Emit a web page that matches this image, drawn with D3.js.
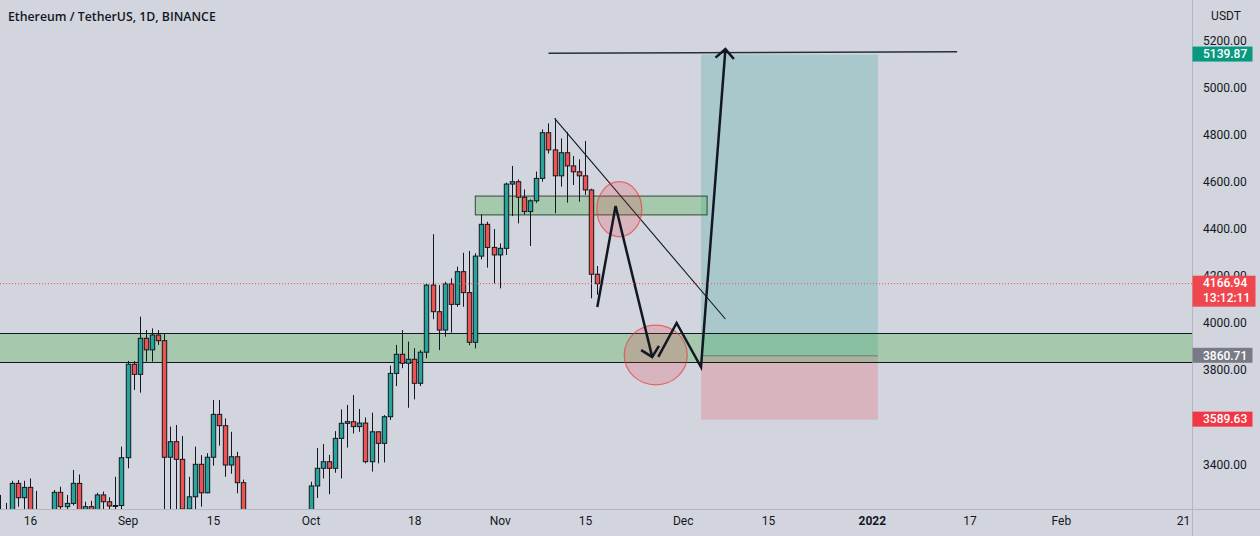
<!DOCTYPE html>
<html><head><meta charset="utf-8">
<script src="https://cdn.jsdelivr.net/npm/d3@7"></script>
<style>html,body{margin:0;padding:0;background:#d2d5dd;overflow:hidden}</style>
</head><body>
<svg id="c" width="1260" height="536"></svg>
<script>
// ---- candle data (ETH/USDT 1D) ----
const dates = ["2021-08-11","2021-08-12","2021-08-13","2021-08-14","2021-08-15","2021-08-16","2021-08-17","2021-08-18","2021-08-19","2021-08-20",
"2021-08-21","2021-08-22","2021-08-23","2021-08-24","2021-08-25","2021-08-26","2021-08-27","2021-08-28","2021-08-29","2021-08-30","2021-08-31",
"2021-09-01","2021-09-02","2021-09-03","2021-09-04","2021-09-05","2021-09-06","2021-09-07","2021-09-08","2021-09-09","2021-09-10",
"2021-09-11","2021-09-12","2021-09-13","2021-09-14","2021-09-15","2021-09-16","2021-09-17","2021-09-18","2021-09-19","2021-09-20",
"2021-09-21","2021-09-22","2021-09-23","2021-09-24","2021-09-25","2021-09-26","2021-09-27","2021-09-28","2021-09-29","2021-09-30",
"2021-10-01","2021-10-02","2021-10-03","2021-10-04","2021-10-05","2021-10-06","2021-10-07","2021-10-08","2021-10-09","2021-10-10",
"2021-10-11","2021-10-12","2021-10-13","2021-10-14","2021-10-15","2021-10-16","2021-10-17","2021-10-18","2021-10-19","2021-10-20",
"2021-10-21","2021-10-22","2021-10-23","2021-10-24","2021-10-25","2021-10-26","2021-10-27","2021-10-28","2021-10-29","2021-10-30","2021-10-31",
"2021-11-01","2021-11-02","2021-11-03","2021-11-04","2021-11-05","2021-11-06","2021-11-07","2021-11-08","2021-11-09","2021-11-10",
"2021-11-11","2021-11-12","2021-11-13","2021-11-14","2021-11-15","2021-11-16","2021-11-17"];
const opens = [3140,3165,3048,3319,3258,3302,3150,3010,3020,3180,
3281,3220,3234,3319,3170,3220,3100,3270,3241,3223,3225,
3428,3825,3782,3935,3886,3949,3925,3430,3496,3421,
3210,3262,3400,3279,3430,3612,3564,3397,3432,3322,
2980,2760,3080,3155,2930,2925,3060,2930,2805,2850,
3000,3308,3383,3411,3383,3510,3574,3581,3560,3575,
3411,3538,3489,3602,3786,3867,3829,3846,3744,3876,
4161,4048,3970,4166,4079,4218,4129,3918,4284,4419,4321,
4289,4317,4590,4600,4534,4473,4519,4614,4808,4735,
4625,4723,4667,4642,4625,4565,4207];
const highs = [3270,3236,3330,3333,3330,3340,3287,3120,3185,3291,
3305,3270,3376,3357,3241,3245,3279,3284,3260,3347,3475,
3839,3838,4027,3970,3977,3970,3956,3560,3567,3520,
3347,3475,3439,3447,3673,3673,3595,3538,3453,3335,
3100,3100,3170,3160,2970,3110,3160,3060,2960,3050,
3326,3469,3486,3440,3541,3633,3652,3694,3635,3599,
3619,3540,3609,3819,3907,3970,3921,3893,3885,4168,
4377,4161,4175,4190,4239,4298,4306,4296,4461,4430,4399,
4338,4596,4667,4610,4567,4525,4643,4822,4848,4869,
4784,4810,4709,4695,4773,4570,4242];
const lows = [3120,3030,3040,3220,3160,3140,2990,2950,2960,3160,
3190,3120,3225,3140,3080,3060,3070,3200,3150,3150,3160,
3383,3716,3704,3836,3836,3907,3000,3200,3200,3150,
3180,3200,3220,3277,3394,3479,3347,3360,3277,2950,
2740,2740,3040,2750,2800,2740,2930,2800,2790,2840,
2970,3257,3340,3273,3364,3340,3471,3531,3538,3404,
3369,3404,3408,3588,3732,3808,3640,3676,3732,3850,
4016,3885,3942,3959,4069,4069,3906,3892,4270,4235,4168,
4147,4289,4454,4423,4460,4327,4510,4600,4720,4466,
4579,4511,4586,4515,4544,4105,4120];
const closes = [3165,3048,3319,3258,3302,3150,3010,3020,3180,3281,
3220,3234,3319,3170,3220,3100,3270,3241,3223,3225,3428,
3825,3782,3935,3886,3949,3925,3430,3496,3421,3210,
3262,3400,3279,3430,3612,3564,3397,3432,3322,2980,
2760,3080,3155,2930,2925,3060,2930,2805,2850,3000,
3308,3383,3411,3383,3510,3574,3581,3560,3575,3411,
3538,3489,3602,3786,3867,3829,3846,3744,3876,4161,
4048,3970,4166,4079,4218,4129,3918,4284,4419,4321,4289,
4317,4590,4600,4534,4473,4519,4614,4808,4735,4625,
4723,4667,4642,4625,4565,4207,4166.94];

// ---- axes ----
const priceTicks = [3400,3600,3800,4000,4200,4400,4600,4800,5000,5200];
const timeTickDates = ["2021-08-16","2021-09-01","2021-09-15","2021-10-01","2021-10-18","2021-11-01","2021-11-15","2021-12-01","2021-12-15","2022-01-01","2022-01-17","2022-02-01","2022-02-21"];
const timeTickLabels = ["16","Sep","15","Oct","18","Nov","15","Dec","15","2022","17","Feb","21"];
const boldTickLabels = ["2022"];

// ---- drawings ----
const supportZone = [3834, 3957];
const boxDates = ["2021-10-28","2021-12-05"];
const boxPrices = [4459, 4539];
const posDates = ["2021-12-04","2022-01-02"];
const entryPrice = 3860.71, targetPrice = 5139.87, stopPrice = 3589.63;
const lastPrice = 4166.94, countdown = "13:12:11";
const trendLine = [["2021-11-10",4869],["2021-12-08",4017]];
const targetLine = [["2021-11-09",5145],["2022-01-15",5152]];
const zig1 = [["2021-11-17",4068],["2021-11-20",4497],["2021-11-26",3856]];
const zig2 = [["2021-11-27",3856],["2021-11-30",4000],["2021-12-04",3813],["2021-12-08",5163]];
const ellipseDates = [["2021-11-16T22:00Z","2021-11-24T07:00Z"],["2021-11-21T10:00Z","2021-12-01T18:00Z"]];
const ellipsePrices = [[4366,4600],[3737,3991]];

const W = 1260, H = 536, plotR = 1192, plotB = 509;
const bg = "#d2d5dd", ink = "#131722";
const up = "#26a69a", down = "#ef5350";
const P = s => new Date(s.length === 10 ? s + "T00:00:00Z" : s);

const x = d3.scaleUtc().domain([P("2021-08-16"), P("2022-02-21")]).range([30, 30 + 189 * 6.1]);
const y = d3.scaleLinear().domain([4000, 5200]).range([323, 323 - 1200 * 0.2355]);

const svg = d3.select("#c");
svg.append("rect").attr("width", W).attr("height", H).attr("fill", bg);
svg.append("defs").append("clipPath").attr("id", "pc")
  .append("rect").attr("x", 0).attr("y", 0).attr("width", plotR).attr("height", plotB);
const g = svg.append("g").attr("clip-path", "url(#pc)");

// long position
const px0 = x(P(posDates[0])), px1 = x(P(posDates[1]));
g.append("rect").attr("x", px0).attr("width", px1 - px0)
  .attr("y", y(targetPrice)).attr("height", y(entryPrice) - y(targetPrice))
  .attr("fill", "rgba(0,150,136,0.2)");
g.append("rect").attr("x", px0).attr("width", px1 - px0)
  .attr("y", y(entryPrice)).attr("height", y(stopPrice) - y(entryPrice))
  .attr("fill", "rgba(242,54,69,0.2)");

// support zone
g.append("rect").attr("x", 0).attr("width", plotR)
  .attr("y", y(supportZone[1])).attr("height", y(supportZone[0]) - y(supportZone[1]))
  .attr("fill", "rgba(76,175,80,0.33)");
[supportZone[0], supportZone[1]].forEach(p => {
  g.append("line").attr("x1", 0).attr("x2", plotR).attr("y1", Math.round(y(p)) + 0.5).attr("y2", Math.round(y(p)) + 0.5)
    .attr("stroke", ink).attr("stroke-width", 1);
});
g.append("line").attr("x1", px0).attr("x2", px1).attr("y1", y(entryPrice)).attr("y2", y(entryPrice))
  .attr("stroke", "#6f7a80").attr("stroke-width", 1);

// small resistance box
const bx0 = x(P(boxDates[0])), bx1 = x(P(boxDates[1]));
g.append("rect").attr("x", bx0).attr("width", bx1 - bx0)
  .attr("y", y(boxPrices[1])).attr("height", y(boxPrices[0]) - y(boxPrices[1]))
  .attr("fill", "rgba(76,175,80,0.33)").attr("stroke", "#2e4a33").attr("stroke-width", 1);

// candles
const candles = dates.map((d, i) => ({ t: P(d), o: opens[i], h: highs[i], l: lows[i], c: closes[i] }));
const bw = 4.4;
const cg = g.append("g");
cg.selectAll("line.w").data(candles).join("line")
  .attr("x1", d => Math.round(x(d.t)) + 0.5).attr("x2", d => Math.round(x(d.t)) + 0.5)
  .attr("y1", d => y(d.h)).attr("y2", d => y(d.l))
  .attr("stroke", ink).attr("stroke-width", 1);
cg.selectAll("rect.b").data(candles).join("rect")
  .attr("x", d => Math.round(x(d.t)) + 0.5 - bw / 2)
  .attr("width", bw)
  .attr("y", d => y(Math.max(d.o, d.c)))
  .attr("height", d => Math.max(1, Math.abs(y(d.o) - y(d.c))))
  .attr("fill", d => d.c >= d.o ? up : down)
  .attr("stroke", ink).attr("stroke-width", 1);

// lines
const lineGen = d3.line().x(d => x(P(d[0]))).y(d => y(d[1]));
g.append("path").attr("d", lineGen(trendLine)).attr("fill", "none").attr("stroke", ink).attr("stroke-width", 1.1);
g.append("path").attr("d", lineGen(targetLine)).attr("fill", "none").attr("stroke", "#2a2e39").attr("stroke-width", 1.5);

// ellipses
ellipseDates.forEach((ed, i) => {
  const ex0 = x(P(ed[0])), ex1 = x(P(ed[1]));
  const ey0 = y(ellipsePrices[i][1]), ey1 = y(ellipsePrices[i][0]);
  g.append("ellipse").attr("cx", (ex0 + ex1) / 2).attr("cy", (ey0 + ey1) / 2)
    .attr("rx", (ex1 - ex0) / 2).attr("ry", (ey1 - ey0) / 2)
    .attr("fill", "rgba(242,54,69,0.2)").attr("stroke", "rgba(235,60,60,0.7)").attr("stroke-width", 1.2);
});

// zigzag with arrowheads
function arrowPath(pts) {
  g.append("path").attr("d", lineGen(pts)).attr("fill", "none")
    .attr("stroke", ink).attr("stroke-width", 2.5).attr("stroke-linejoin", "miter");
  const a = pts[pts.length - 2], b = pts[pts.length - 1];
  const ax = x(P(a[0])), ay = y(a[1]), tx = x(P(b[0])), ty = y(b[1]);
  const ang = Math.atan2(ay - ty, ax - tx), L = 13, sp = Math.PI / 4;
  const w1 = [tx + L * Math.cos(ang + sp), ty + L * Math.sin(ang + sp)];
  const w2 = [tx + L * Math.cos(ang - sp), ty + L * Math.sin(ang - sp)];
  g.append("path").attr("d", `M${w1[0]},${w1[1]}L${tx},${ty}L${w2[0]},${w2[1]}`)
    .attr("fill", "none").attr("stroke", ink).attr("stroke-width", 2.5);
}
arrowPath(zig1);
arrowPath(zig2);

// last price dotted line
g.append("line").attr("x1", 0).attr("x2", plotR).attr("y1", y(lastPrice)).attr("y2", y(lastPrice))
  .attr("stroke", down).attr("stroke-width", 1).attr("stroke-dasharray", "1,2");

// separators
svg.append("line").attr("x1", plotR + 0.5).attr("x2", plotR + 0.5).attr("y1", 0).attr("y2", H)
  .attr("stroke", "#b4b7c0").attr("stroke-width", 1);
svg.append("line").attr("x1", 0).attr("x2", W).attr("y1", plotB + 0.5).attr("y2", plotB + 0.5)
  .attr("stroke", "#b4b7c0").attr("stroke-width", 1);

// title
svg.append("text").attr("x", 8).attr("y", 21).text("Ethereum / TetherUS, 1D, BINANCE")
  .attr("font-family", "'Open Sans', Roboto, sans-serif").attr("font-weight", 600)
  .attr("font-size", 12.3).attr("fill", ink);

// right price axis
const axFont = "Roboto, 'Open Sans', sans-serif";
svg.append("text").attr("x", 1226).attr("y", 20).attr("text-anchor", "middle").text("USDT")
  .attr("font-family", axFont).attr("font-size", 12).attr("fill", ink);
const yAxis = d3.axisRight(y).tickValues(priceTicks).tickSize(0).tickPadding(0).tickFormat(d3.format(".2f"));
const ya = svg.append("g").attr("transform", `translate(1203,0)`).call(yAxis);
ya.select(".domain").remove();
ya.selectAll("text").attr("font-family", axFont).attr("font-size", 12).attr("fill", ink);

// time axis
const xAxis = d3.axisBottom(x).tickValues(timeTickDates.map(P)).tickSize(0).tickPadding(0)
  .tickFormat((d, i) => timeTickLabels[i]);
const xa = svg.append("g").attr("transform", `translate(0,${plotB + 7})`).call(xAxis);
xa.select(".domain").remove();
xa.selectAll("text").attr("font-family", axFont).attr("font-size", 12).attr("fill", ink)
  .attr("font-weight", (d, i) => boldTickLabels.includes(timeTickLabels[i]) ? 700 : 400);

// price badges
function badge(price, color, lines) {
  const cy = y(price);
  const h = lines.length === 1 ? 15 : 31;
  const top = cy - 8;
  svg.append("rect").attr("x", 1192.5).attr("y", top).attr("width", lines.length === 1 ? 60 : 63).attr("height", h)
    .attr("fill", color);
  lines.forEach((t, i) => {
    svg.append("text").attr("x", 1203).attr("y", top + 7.5 + i * 14.5).attr("dy", "0.35em").text(t)
      .attr("font-family", axFont).attr("font-size", 12).attr("font-weight", 500).attr("fill", "#ffffff");
  });
}
badge(targetPrice, "#089981", [d3.format(".2f")(targetPrice)]);
badge(stopPrice, "#f23645", [d3.format(".2f")(stopPrice)]);
badge(entryPrice, "#787b86", [d3.format(".2f")(entryPrice)]);
badge(lastPrice, "#f0474f", [d3.format(".2f")(lastPrice), countdown]);
</script>
</body></html>
